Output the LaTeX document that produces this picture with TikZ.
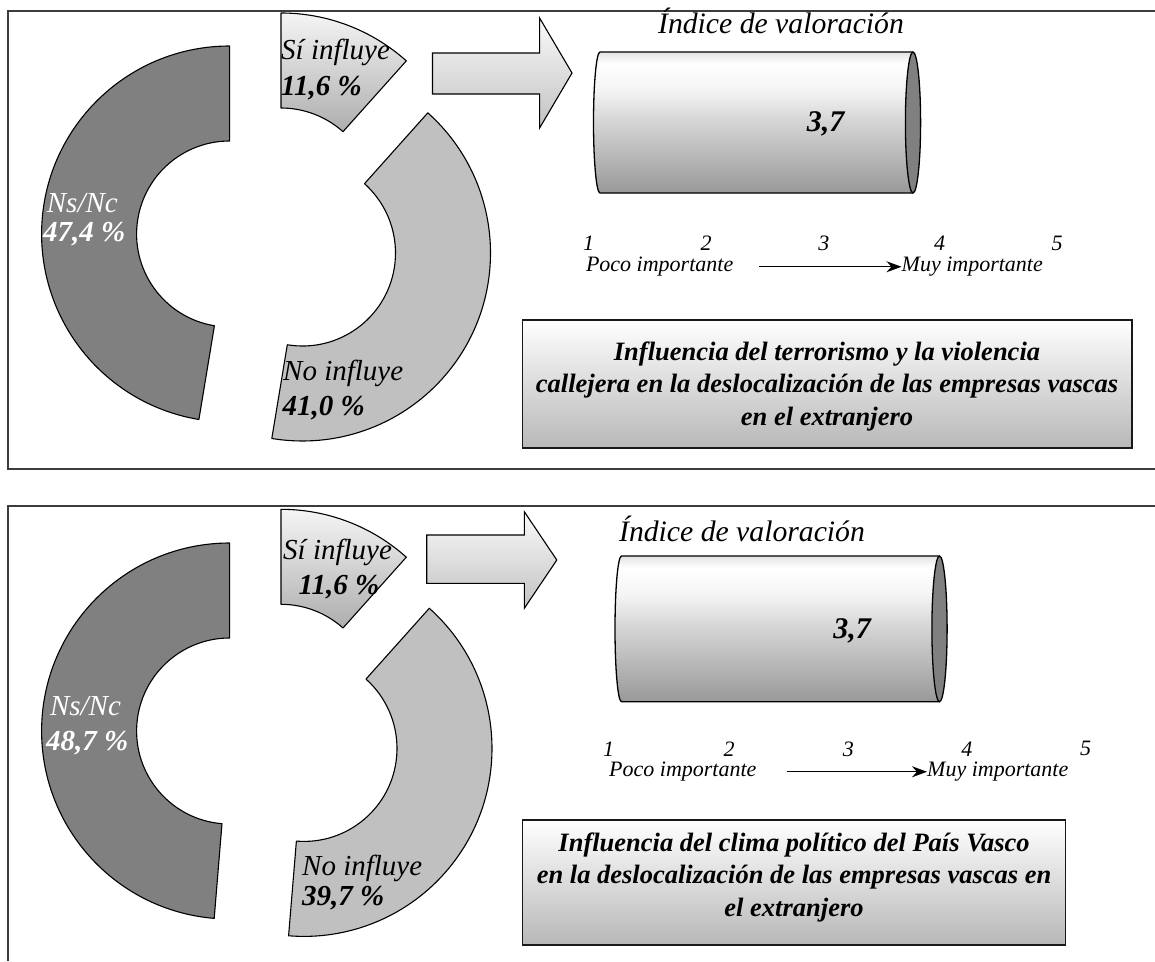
\documentclass[tikz,border=0pt]{standalone}
\usepackage{fontspec}
\setmainfont{Liberation Serif}
\usetikzlibrary{arrows.meta,calc}
\definecolor{nsgray}{HTML}{808080}
\definecolor{nogray}{HTML}{C0C0C0}
\definecolor{framecol}{HTML}{3C3C3C}
\pgfdeclareverticalshading{cylshade}{100bp}{color(0bp)=(black!40); color(25bp)=(black!40); color(50bp)=(black!17); color(62bp)=(black!4); color(71bp)=(white); color(75bp)=(black!11); color(100bp)=(black!11)}
\newcommand{\ringslice}[4]{%
  \path[#1] ([shift={(#3:188pt)}]#2) arc[start angle=#3,end angle=#4,radius=188pt]
    -- ([shift={(#4:93pt)}]#2) arc[start angle=#4,end angle=#3,radius=93pt] -- cycle;}
\tikzset{
  frameline/.style={draw=framecol, line width=2pt},
  slice/.style={draw=black, line width=1.1pt, line join=round},
  lbl/.style={font=\fontsize{29}{30}\selectfont\itshape, inner sep=0pt, anchor=west, text height=0.6em, text depth=0.1em},
  lblb/.style={font=\fontsize{29}{30}\selectfont\bfseries\itshape, inner sep=0pt, anchor=west, text height=0.6em, text depth=0.1em},
  idx/.style={font=\fontsize{29.7}{31}\selectfont\itshape, inner sep=0pt, anchor=base},
  val/.style={font=\fontsize{30}{31}\selectfont\bfseries\itshape, inner sep=0pt, anchor=base},
  scl/.style={font=\fontsize{22}{23}\selectfont\itshape, inner sep=0pt},
  titlebox/.style={draw=black!90, line width=1.1pt, top color=white, bottom color=black!28, inner sep=0pt},
  titletext/.style={font=\fontsize{26.5}{32.5}\selectfont\bfseries\itshape, align=center, inner sep=0pt},
  blockarrow/.style={draw=black, line width=1.1pt, line join=miter, top color=black!2, bottom color=black!24},
  cylline/.style={draw=black, line width=1.3pt},
  sclarrow/.style={-{Stealth[length=15pt,width=11pt]}, line width=1.3pt},
}
\begin{document}
\begin{tikzpicture}[x=1pt,y=1pt]
\useasboundingbox[fill=white] (0,0) rectangle (1155,-961);

% ---------------- frames ----------------
\draw[frameline] (1155,-10.7) -- (7.7,-10.7) -- (7.7,-469) -- (1155,-469);
\draw[frameline] (1155,-506) -- (7.7,-506) -- (7.7,-961);

% ================= PANEL 1 =================
\ringslice{slice, fill=nsgray}{229.6,-234}{90}{260.6}
\ringslice{slice, top color=black!4, bottom color=black!32}{281,-201}{90}{48.2}
\ringslice{slice, fill=nogray}{302.5,-253}{48.2}{-99.4}

\node[lbl] (si1) at (281,-57) {Sí influye};
\node[lblb] (sip1) at (281,-93) {11,6 \%};
\node[lbl, text=white] (ns1) at (46.7,-210) {Ns/Nc};
\node[lblb, text=white] (nsp1) at (43,-239) {47,4 \%};
\node[lbl] (no1) at (283,-378) {No influye};
\node[lblb] (nop1) at (282.4,-413) {41,0 \%};

\path[blockarrow] (432.5,-53) -- (539.6,-53) -- (539.6,-18) -- (572,-73) -- (539.6,-128) -- (539.6,-94) -- (432.5,-94) -- cycle;

\node[idx] (idx1) at (781,-33.3) {Índice de valoración};
\shade[shading=cylshade] (913,-52) -- (600,-52) arc[start angle=90,end angle=270,x radius=6.5pt,y radius=70.5pt] -- (913,-193) arc[start angle=-90,end angle=90,x radius=7.6pt,y radius=70.5pt] -- cycle;
\draw[cylline] (913,-52) -- (600,-52) arc[start angle=90,end angle=270,x radius=6.5pt,y radius=70.5pt] -- (913,-193);
\draw[cylline, fill=nsgray] (913,-122.5) ellipse[x radius=7.6pt, y radius=70.5pt];
\node[val] (v1) at (825.6,-131.7) {3,7};

\node[scl, anchor=base] (n11) at (588.5,-250.7) {1};
\node[scl, anchor=base] (n12) at (706,-250.7) {2};
\node[scl, anchor=base] (n13) at (823.8,-250.7) {3};
\node[scl, anchor=base] (n14) at (939.5,-250.7) {4};
\node[scl, anchor=base] (n15) at (1057,-250.7) {5};
\node[scl, anchor=base west] (poco1) at (585.8,-271.7) {Poco importante};
\node[scl, anchor=base west] (muy1) at (901.5,-271.7) {Muy importante};
\draw[sclarrow, shorten <=26pt] (poco1.east) -- (poco1.east -| muy1.west);

\node[titlebox, minimum width=609.6pt, minimum height=128pt] (box1) at (827.2,-384) {};
\node[titletext] (title1) at (827,-386) {Influencia del terrorismo y la violencia\\callejera en la deslocalización de las empresas vascas\\en el extranjero};

% ================= PANEL 2 =================
\ringslice{slice, fill=nsgray}{229.6,-731}{90}{265.3}
\ringslice{slice, top color=black!4, bottom color=black!32}{281,-697.3}{90}{48.2}
\ringslice{slice, fill=nogray}{304,-748.4}{48.2}{-94.7}

\node[lbl] (si2) at (283,-556.7) {Sí influye};
\node[lblb] (sip2) at (298.5,-591.7) {11,6 \%};
\node[lbl, text=white] (ns2) at (49.8,-713) {Ns/Nc};
\node[lblb, text=white] (nsp2) at (46,-748) {48,7 \%};
\node[lbl] (no2) at (302,-873) {No influye};
\node[lblb] (nop2) at (302,-903.3) {39,7 \%};

\path[blockarrow] (426.7,-535) -- (524.3,-535) -- (524.3,-511.7) -- (556.8,-560) -- (524.3,-608.3) -- (524.3,-583.3) -- (426.7,-583.3) -- cycle;

\node[idx] (idx2) at (742,-541.7) {Índice de valoración};
\shade[shading=cylshade] (939.5,-556) -- (621.5,-556) arc[start angle=90,end angle=270,x radius=6.5pt,y radius=72.85pt] -- (939.5,-701.7) arc[start angle=-90,end angle=90,x radius=7.6pt,y radius=72.85pt] -- cycle;
\draw[cylline] (939.5,-556) -- (621.5,-556) arc[start angle=90,end angle=270,x radius=6.5pt,y radius=72.85pt] -- (939.5,-701.7);
\draw[cylline, fill=nsgray] (939.5,-628.85) ellipse[x radius=7.6pt, y radius=72.85pt];
\node[val] (v2) at (852,-638.3) {3,7};

\node[scl, anchor=base] (n21) at (608.6,-756.7) {1};
\node[scl, anchor=base] (n22) at (729,-756.7) {2};
\node[scl, anchor=base] (n23) at (848.4,-756.7) {3};
\node[scl, anchor=base] (n24) at (966.8,-756.7) {4};
\node[scl, anchor=base] (n25) at (1085.6,-755) {5};
\node[scl, anchor=base west] (poco2) at (609,-776.7) {Poco importante};
\node[scl, anchor=base west] (muy2) at (927,-776.7) {Muy importante};
\draw[sclarrow, shorten <=30pt] (poco2.east) -- (poco2.east -| muy2.west);

\node[titlebox, minimum width=543.1pt, minimum height=125pt] (box2) at (794,-882.5) {};
\node[titletext] (title2) at (794,-877) {Influencia del clima político del País Vasco\\en la deslocalización de las empresas vascas en\\el extranjero};
\end{tikzpicture}
\end{document}
